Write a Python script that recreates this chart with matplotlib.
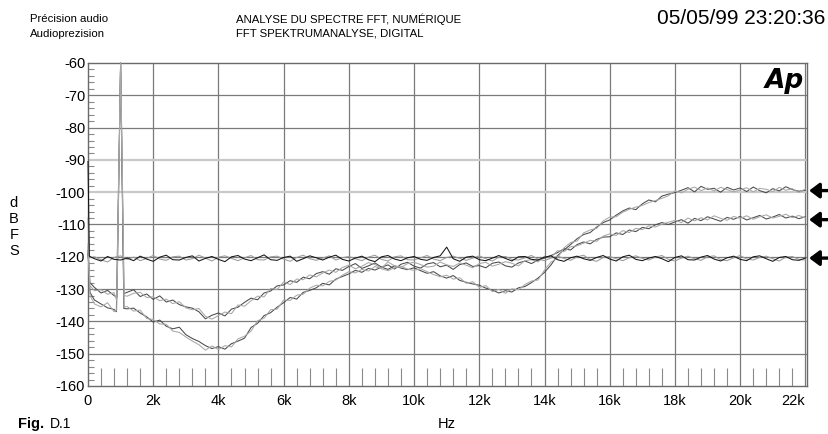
import numpy as np
import matplotlib
matplotlib.use("Agg")
import matplotlib.pyplot as plt
from matplotlib.ticker import MultipleLocator

plt.rcParams["font.family"] = ["Liberation Sans", "DejaVu Sans"]
plt.rcParams["axes.unicode_minus"] = False

# FFT bins, 200 Hz apart, 0 .. 22 kHz
freqs = np.arange(0, 22001, 200)

# black noise floor, left channel (spike at DC and a small one near 11 kHz)
floor_dark = [
    -90.5, -120.6, -121.3, -119.9, -120.8, -121.0, -120.4, -121.2, -119.8, -120.7,
    -121.4, -120.1, -119.5, -120.9, -121.0, -120.2, -119.7, -121.3, -120.5, -119.9,
    -120.8, -121.5, -120.0, -119.6, -120.7, -121.2, -120.3, -119.4, -120.9, -121.1,
    -120.2, -119.8, -121.4, -120.6, -119.7, -120.3, -121.0, -120.1, -119.5, -120.8,
    -121.3, -120.4, -119.8, -120.9, -121.5, -120.0, -119.6, -120.7, -121.2, -120.3,
    -119.9, -120.8, -121.1, -120.2, -119.7, -117.0, -120.6, -121.4, -120.1, -119.8,
    -120.9, -121.2, -120.4, -119.6, -120.5, -121.3, -120.0, -119.9, -120.8, -121.0,
    -120.1, -119.7, -120.9, -121.4, -120.3, -119.8, -120.6, -121.1, -120.2, -119.6,
    -120.7, -121.3, -120.0, -119.5, -120.8, -121.2, -120.4, -119.9, -120.6, -121.5,
    -120.2, -119.7, -120.9, -121.0, -120.1, -119.6, -120.7, -121.3, -120.3, -119.8,
    -120.8, -121.2, -120.0, -119.7, -120.6, -121.4, -120.2, -119.9, -120.9, -121.1,
    -120.4,
]
floor_dark_xf = [40]
floor_dark_xdb = [-119.8]

# grey noise floor, right channel
floor_light = [
    -108.0, -120.0, -120.9, -121.6, -120.2, -119.7, -120.8, -120.1, -121.2, -120.5,
    -119.6, -120.7, -121.1, -120.0, -119.8, -121.0, -120.6, -119.5, -120.4, -121.3,
    -120.1, -119.7, -120.5, -121.2, -120.3, -119.6, -120.9, -121.0, -120.0, -119.8,
    -120.7, -121.4, -120.2, -119.5, -120.6, -121.1, -120.4, -119.7, -121.0, -120.3,
    -119.9, -120.6, -121.2, -120.1, -119.5, -120.8, -121.3, -120.0, -119.7, -120.9,
    -121.0, -120.3, -119.6, -120.7, -121.2, -120.2, -119.8, -120.5, -121.1, -120.4,
    -119.7, -120.6, -121.3, -120.1, -119.9, -120.8, -121.0, -120.3, -119.6, -120.7,
    -121.2, -120.4, -119.8, -120.5, -121.1, -120.0, -119.5, -120.9, -121.4, -120.2,
    -119.9, -120.6, -121.2, -120.3, -119.7, -120.5, -121.0, -120.1, -119.6, -120.8,
    -121.3, -120.4, -119.8, -120.6, -121.1, -120.0, -119.7, -120.9, -121.2, -120.3,
    -119.6, -120.7, -121.0, -120.2, -119.8, -120.6, -121.3, -120.1, -119.9, -120.8,
    -121.0,
]
floor_light_xf = [50]
floor_light_xdb = [-120.3]

# shaped noise ending near -108 dBFS, with the 1 kHz tone
mid_dark = [
    -119.0, -129.5, -131.2, -130.4, -132.0, -60.0, -131.0, -130.2, -132.3, -131.5,
    -133.2, -132.1, -134.0, -133.4, -134.8, -135.5, -135.9, -137.0, -139.2, -138.1,
    -137.4, -138.3, -136.2, -135.6, -134.1, -132.8, -133.3, -131.2, -130.6, -129.0,
    -128.7, -127.4, -127.9, -126.3, -126.8, -125.2, -124.6, -125.4, -123.7, -124.2,
    -123.0, -122.1, -123.6, -122.8, -121.9, -123.2, -122.5, -123.8, -122.3, -121.7,
    -122.9, -123.5, -122.2, -121.8, -123.1, -122.6, -123.9, -122.4, -121.9, -123.0,
    -122.7, -123.4, -122.0, -121.6, -122.8, -123.2, -121.9, -121.3, -122.1, -121.0,
    -120.4, -119.6, -118.7, -117.5, -117.9, -116.2, -115.4, -116.0, -114.6, -113.9,
    -113.8, -112.6, -113.1, -111.7, -112.2, -110.9, -111.3, -110.1, -109.4, -110.0,
    -109.2, -108.5, -109.6, -108.1, -108.8, -107.6, -108.3, -109.0, -107.8, -108.4,
    -107.5, -108.6, -107.9, -107.2, -108.3, -107.7, -106.9, -108.0, -107.4, -108.2,
    -107.6,
]
mid_dark_xf = [60, 890, 1100]
mid_dark_xdb = [-128.0, -132.5, -131.4]

mid_light = [
    -117.0, -130.5, -130.2, -131.6, -131.1, -60.0, -132.2, -131.3, -131.0, -132.6,
    -132.4, -133.6, -133.1, -134.5, -133.9, -135.8, -136.4, -136.0, -138.4, -139.3,
    -138.2, -137.1, -137.6, -134.9, -135.3, -133.6, -132.2, -132.4, -129.8, -130.1,
    -127.8, -128.6, -126.9, -127.1, -125.6, -126.2, -125.0, -124.1, -124.8, -123.3,
    -122.6, -123.7, -122.9, -121.8, -122.4, -123.5, -121.6, -122.8, -123.3, -122.1,
    -121.7, -122.4, -123.2, -122.9, -121.6, -122.5, -123.0, -121.9, -122.6, -123.4,
    -122.1, -121.7, -122.9, -122.3, -121.5, -122.0, -122.8, -121.2, -120.9, -121.6,
    -119.8, -120.2, -118.1, -118.4, -116.9, -116.6, -115.8, -114.9, -115.2, -113.6,
    -112.9, -113.4, -111.9, -112.5, -111.2, -111.6, -110.4, -110.8, -109.9, -109.3,
    -108.7, -109.4, -108.0, -108.9, -107.9, -108.6, -107.3, -108.1, -108.7, -107.5,
    -108.1, -107.3, -108.4, -107.6, -107.0, -108.0, -107.5, -106.8, -107.9, -107.2,
    -108.0,
]
mid_light_xf = [60, 880, 1110]
mid_light_xdb = [-129.0, -133.5, -132.0]

# shaped noise ending near -99 dBFS, with the 1 kHz tone
high_dark = [
    -118.0, -133.4, -134.6, -135.8, -136.3, -60.0, -136.1, -135.9, -137.4, -138.6,
    -140.2, -139.6, -141.5, -142.3, -141.8, -144.1, -145.3, -146.2, -147.5, -148.4,
    -147.8, -148.6, -146.9, -146.1, -145.2, -141.9, -140.6, -138.2, -137.3, -135.6,
    -134.2, -132.6, -133.1, -131.0, -130.4, -129.6, -128.2, -128.7, -126.9, -126.1,
    -125.3, -124.2, -124.8, -123.6, -124.1, -123.2, -123.9, -122.8, -123.5, -124.0,
    -123.4, -124.3, -125.1, -124.6, -125.9, -126.6, -125.8, -127.3, -127.9, -128.4,
    -128.8, -129.7, -130.3, -131.2, -130.5, -130.9, -129.6, -129.2, -128.0, -126.6,
    -124.8, -122.5, -119.6, -117.9, -116.2, -114.4, -113.1, -112.5, -110.8, -109.4,
    -108.6, -107.1, -105.8, -104.9, -105.4, -103.6, -102.4, -103.0, -101.2, -100.6,
    -100.1, -99.4, -98.6, -99.9, -98.2, -99.1, -98.8, -100.0, -98.5, -99.3,
    -98.7, -99.8, -98.4, -99.5, -100.2, -98.9, -99.6, -98.3, -99.2, -99.7,
    -99.4,
]
high_dark_xf = [60, 870, 1100]
high_dark_xdb = [-131.0, -137.0, -136.0]

high_light = [
    -116.0, -134.6, -135.5, -134.2, -137.0, -60.0, -135.4, -136.8, -136.5, -139.1,
    -139.4, -140.8, -140.9, -143.0, -143.4, -144.8, -146.1, -147.2, -148.9, -147.6,
    -148.7, -147.5, -147.9, -145.4, -144.6, -143.0, -139.8, -139.0, -136.4, -136.2,
    -133.4, -133.5, -131.9, -131.6, -129.7, -128.8, -129.0, -127.6, -127.2, -125.7,
    -124.6, -125.0, -123.9, -124.4, -123.0, -123.7, -124.3, -123.4, -122.9, -123.8,
    -124.2, -123.7, -124.6, -125.5, -126.2, -125.7, -126.9, -126.5, -128.2, -127.7,
    -129.5, -128.9, -130.8, -130.1, -131.3, -129.9, -130.2, -128.6, -127.5, -127.2,
    -124.1, -121.6, -120.4, -117.2, -115.6, -115.1, -112.6, -111.7, -111.2, -108.9,
    -107.7, -107.6, -106.2, -105.3, -104.6, -104.1, -103.2, -102.6, -101.9, -101.1,
    -99.6, -100.2, -99.1, -98.4, -99.5, -98.7, -99.6, -98.5, -99.2, -99.9,
    -99.3, -98.6, -99.9, -98.8, -99.1, -99.8, -98.5, -99.4, -98.9, -100.1,
    -99.0,
]
high_light_xf = [60, 880, 1110]
high_light_xdb = [-132.0, -136.5, -135.5]

# reference markers on the right edge
arrow_levels = [-99.5, -108.5, -120.4]

x_ticks = [0, 2000, 4000, 6000, 8000, 10000, 12000, 14000, 16000, 18000, 20000, 22000]
x_labels = ["0", "2k", "4k", "6k", "8k", "10k", "12k", "14k", "16k", "18k", "20k", "22k"]
y_ticks = [-160, -150, -140, -130, -120, -110, -100, -90, -80, -70, -60]


def merge(values, extra_f, extra_db):
    f = np.concatenate([freqs, extra_f])
    d = np.concatenate([values, extra_db])
    order = np.argsort(f, kind="stable")
    return f[order], d[order]


fig = plt.figure(figsize=(8.29, 4.34), dpi=100)
ax = fig.add_axes([88 / 829, 48 / 434, 719 / 829, 323 / 434])

ax.set_xlim(0, 22050)
ax.set_ylim(-160, -60)

# grid
for x in x_ticks[1:]:
    ax.axvline(x, color="#7a7a7a", lw=0.9, zorder=1)
for y in y_ticks[1:-1]:
    if y in (-90, -100):
        ax.axhline(y, color="#c9c9c9", lw=1.6, zorder=1)
    else:
        ax.axhline(y, color="#7a7a7a", lw=0.9, zorder=1)

traces = [
    (high_dark, high_dark_xf, high_dark_xdb, "#4a4a4a"),
    (mid_dark, mid_dark_xf, mid_dark_xdb, "#4a4a4a"),
    (high_light, high_light_xf, high_light_xdb, "#a8a8a8"),
    (mid_light, mid_light_xf, mid_light_xdb, "#a8a8a8"),
    (floor_light, floor_light_xf, floor_light_xdb, "#9a9a9a"),
    (floor_dark, floor_dark_xf, floor_dark_xdb, "#151515"),
]
for vals, xf, xdb, col in traces:
    f, d = merge(vals, xf, xdb)
    ax.plot(f, d, color=col, lw=0.75, zorder=3, clip_on=False)

for s in ax.spines.values():
    s.set_color("#6a6a6a")
    s.set_linewidth(1.0)

ax.set_xticks(x_ticks)
ax.set_xticklabels(x_labels)
ax.set_yticks(y_ticks)
ax.xaxis.set_minor_locator(MultipleLocator(400))
ax.yaxis.set_minor_locator(MultipleLocator(2))
ax.tick_params(axis="both", which="major", length=0, labelsize=10.5, colors="black")
ax.tick_params(axis="x", which="major", pad=6)
ax.tick_params(axis="y", which="major", pad=2)
ax.tick_params(axis="x", which="minor", direction="in", length=13, color="#8a8a8a", width=0.8)
ax.tick_params(axis="y", which="minor", direction="in", length=4.3, color="#8a8a8a", width=0.8)
ax.get_xticklabels()[-1].set_horizontalalignment("right")

for lvl in arrow_levels:
    ax.annotate("", xy=(1.003, lvl), xytext=(1.031, lvl),
                xycoords=("axes fraction", "data"), textcoords=("axes fraction", "data"),
                arrowprops=dict(arrowstyle="-|>,head_length=0.6,head_width=0.45",
                                lw=2.4, color="black", shrinkA=0, shrinkB=0),
                annotation_clip=False)

# logo
ax.text(0.9955, 0.985, "Ap", transform=ax.transAxes, ha="right", va="top",
        fontsize=19, fontweight="bold", style="italic", family="DejaVu Sans")

# header
fig.text(30 / 829, 1 - 19 / 434, "Précision audio", fontsize=8.2, va="center")
fig.text(30 / 829, 1 - 34 / 434, "Audioprezision", fontsize=8.2, va="center")
fig.text(236 / 829, 1 - 19 / 434, "ANALYSE DU SPECTRE FFT, NUMÉRIQUE", fontsize=8.2, va="center")
fig.text(236 / 829, 1 - 34 / 434, "FFT SPEKTRUMANALYSE, DIGITAL", fontsize=8.2, va="center")
fig.text(825 / 829, 1 - 19 / 434, "05/05/99 23:20:36", fontsize=15, ha="right", va="center")

# axis titles
fig.text(14 / 829, 1 - 227 / 434, "d\nB\nF\nS", fontsize=10.5, ha="center", va="center",
         linespacing=1.2)
fig.text(447 / 829, 1 - 424 / 434, "Hz", fontsize=10.5, ha="center", va="center")
fig.text(18 / 829, 1 - 424 / 434, "Fig.", fontsize=10.5, fontweight="bold", va="center")
fig.text(50 / 829, 1 - 424 / 434, "D.1", fontsize=10, va="center")

fig.savefig("out.png", dpi=100)
